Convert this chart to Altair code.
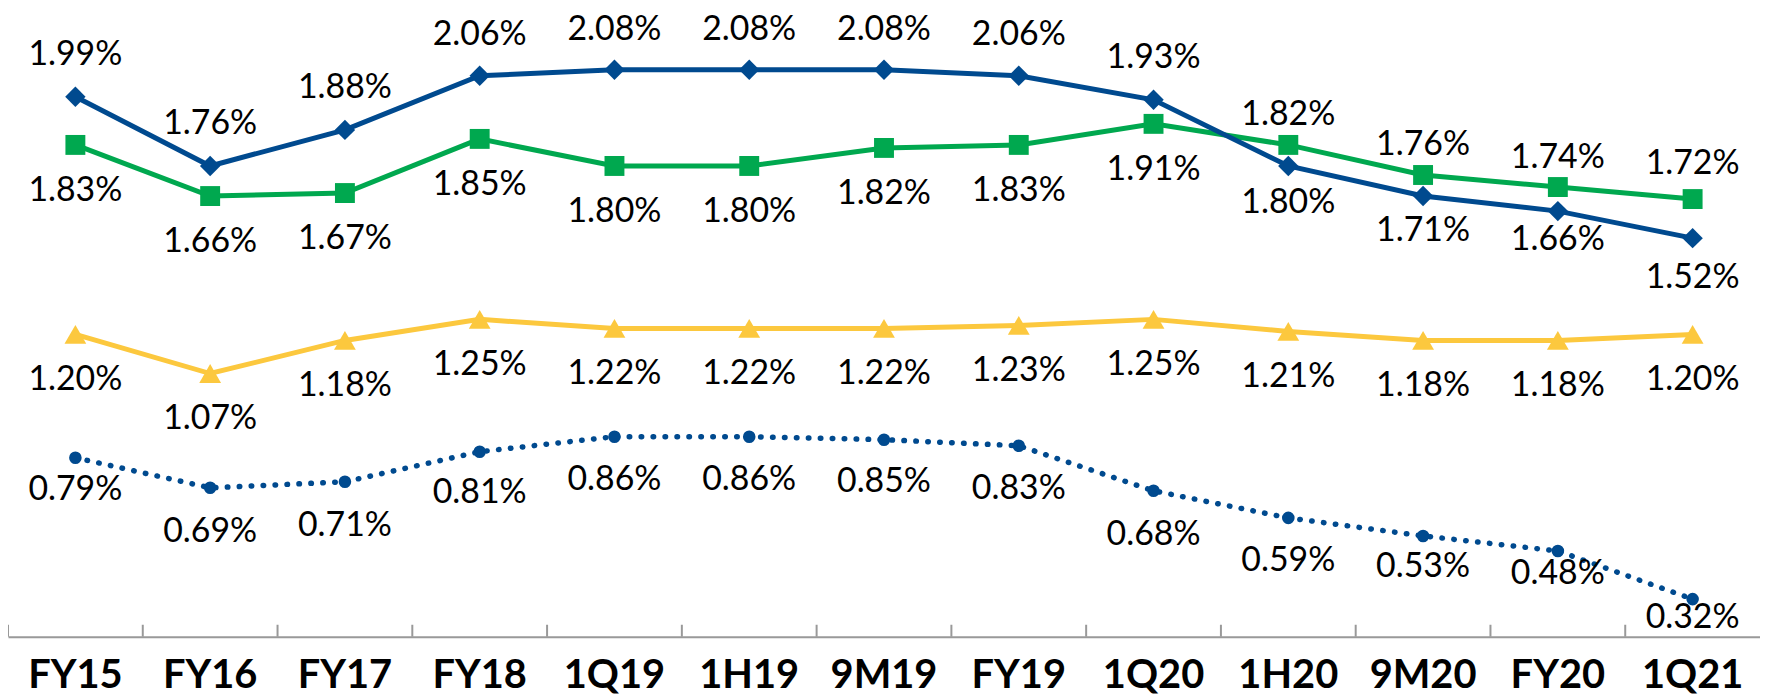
import altair as alt
import pandas as pd

# ---------------- data ----------------
cats = ["FY15", "FY16", "FY17", "FY18", "1Q19", "1H19", "9M19",
        "FY19", "1Q20", "1H20", "9M20", "FY20", "1Q21"]

s1_values = [1.99, 1.76, 1.88, 2.06, 2.08, 2.08, 2.08, 2.06, 1.98, 1.76, 1.66, 1.61, 1.52]
s1_labels = ["1.99%", "1.76%", "1.88%", "2.06%", "2.08%", "2.08%", "2.08%",
             "2.06%", "1.93%", "1.80%", "1.71%", "1.66%", "1.52%"]

s2_values = [1.83, 1.66, 1.67, 1.85, 1.76, 1.76, 1.82, 1.83, 1.90, 1.83, 1.73, 1.69, 1.65]
s2_labels = ["1.83%", "1.66%", "1.67%", "1.85%", "1.80%", "1.80%", "1.82%",
             "1.83%", "1.91%", "1.82%", "1.76%", "1.74%", "1.72%"]

s3_values = [1.20, 1.07, 1.18, 1.25, 1.22, 1.22, 1.22, 1.23, 1.25, 1.21, 1.18, 1.18, 1.20]
s3_labels = ["1.20%", "1.07%", "1.18%", "1.25%", "1.22%", "1.22%", "1.22%",
             "1.23%", "1.25%", "1.21%", "1.18%", "1.18%", "1.20%"]

s4_values = [0.79, 0.69, 0.71, 0.81, 0.86, 0.86, 0.85, 0.83, 0.68, 0.59, 0.53, 0.48, 0.32]
s4_labels = ["0.79%", "0.69%", "0.71%", "0.81%", "0.86%", "0.86%", "0.85%",
             "0.83%", "0.68%", "0.59%", "0.53%", "0.48%", "0.32%"]

# ---------------- style ----------------
s1_label_dy = [-42, -42, -42, -41, -40, -40, -40, -41, -42, 37, 35, 29, 40]
s2_label_dy = [46] * 9 + [-30, -30, -29, -35]
s3_label_dy = [46] * 13
s4_label_dy = [32, 44, 44, 42, 44, 44, 43, 44, 44, 43, 31, 23, 19]

BLUE = "#004A8F"
GREEN = "#00A84F"
YELLOW = "#FCC83E"
GRAY = "#999999"
FONT = "Lato"
Y_DOMAIN = [0.195, 2.28]
PLOT_W, PLOT_H = 1760, 630
TICK_LEN = 12

x_scale = alt.Scale(type="band", paddingInner=0, paddingOuter=0)
x_axis = alt.Axis(title=None, labelFont=FONT, labelFontWeight="bold", labelFontSize=40,
                  labelColor="black", ticks=False, labelPadding=19,
                  domainColor=GRAY, domainWidth=2, labelAngle=0, labelOverlap=False,
                  grid=False)
x_enc = alt.X("cat:N", sort=cats, scale=x_scale, axis=x_axis)
y_enc = alt.Y("value:Q", scale=alt.Scale(domain=Y_DOMAIN, nice=False, zero=False), axis=None)


def make_df(values, labels, dys):
    return pd.DataFrame({"cat": cats, "value": values, "label": labels, "dy": dys})


def series(values, labels, dys, color, shape, size, dashed=False):
    df = make_df(values, labels, dys)
    base = alt.Chart(df).encode(x=x_enc, y=y_enc)
    if dashed:
        line = base.mark_line(color=color, strokeWidth=5.5, strokeDash=[0.5, 11.5], strokeCap="round")
    else:
        line = base.mark_line(color=color, strokeWidth=5)
    pts = base.mark_point(shape=shape, filled=True, size=size, color=color, opacity=1)
    return [line, pts], df


def text_layers(df):
    out = []
    for d in sorted(set(int(v) for v in df["dy"])):
        out.append(
            alt.Chart(df).transform_filter(alt.datum.dy == d)
            .mark_text(dy=d, font=FONT, fontSize=34, color="black",
                       baseline="middle", align="center")
            .encode(x=x_enc, y=y_enc, text="label:N")
        )
    return out


# category boundary ticks, pointing up from the axis line
ticks = alt.Chart(pd.DataFrame({"cat": cats})).mark_rule(
    color=GRAY, strokeWidth=2
).encode(
    x=alt.X("cat:N", sort=cats, scale=x_scale, axis=x_axis, bandPosition=0),
    y=alt.value(PLOT_H - TICK_LEN),
    y2=alt.value(PLOT_H),
)

l4, d4 = series(s4_values, s4_labels, s4_label_dy, BLUE, "circle", 160, dashed=True)
l3, d3 = series(s3_values, s3_labels, s3_label_dy, YELLOW, "triangle-up", 480)
l2, d2 = series(s2_values, s2_labels, s2_label_dy, GREEN, "square", 400)
l1, d1 = series(s1_values, s1_labels, s1_label_dy, BLUE, "diamond", 420)

layers = [ticks] + l4 + l3 + l2 + l1
for d in (d4, d3, d2, d1):
    layers += text_layers(d)

chart = alt.layer(*layers).properties(
    width=PLOT_W, height=PLOT_H,
    padding={"left": 0, "top": 0, "right": 0, "bottom": 59},
    autosize=alt.AutoSizeParams(type="none"),
).configure_view(stroke=None)

chart.save("out.html", embed_options={"renderer": "svg", "actions": False})
